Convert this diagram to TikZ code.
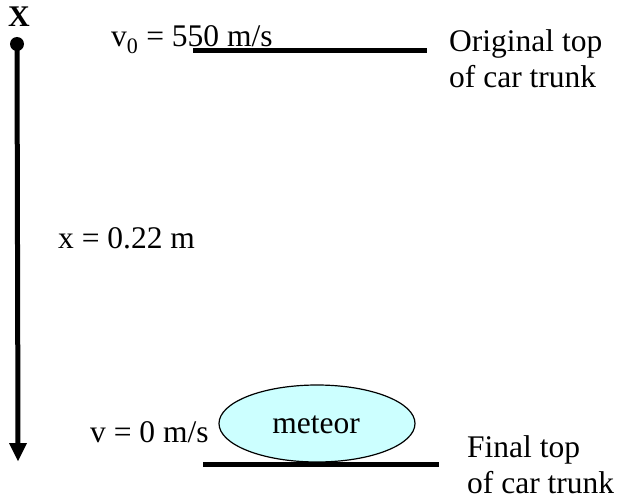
\documentclass[tikz,border=0pt]{standalone}
\usepackage{fontspec}
\setmainfont{Liberation Serif}
\usetikzlibrary{shapes.geometric}
\definecolor{meteorfill}{HTML}{CCFFFF}
\begin{document}
\begin{tikzpicture}[x=1pt,y=-1pt,
  lbl/.style={inner sep=0pt,font=\fontsize{31.5}{36}\selectfont},
  thick line/.style={line width=5pt}]
\useasboundingbox (0,0) rectangle (618,500);
% axis
\node[inner sep=0pt,font=\fontsize{30}{36}\selectfont\bfseries,anchor=base] (X) at (19,27) {X};
\fill (17,44) circle (7);
\coordinate (atop) at (17,44);
\coordinate (abot) at (18,461);
\draw[line width=5pt] (atop) -- (18,445);
\fill (abot) -- (9,443) -- (27,443) -- cycle;
% top
\node[lbl,anchor=base west] (v0) at (111,47) {v\textsubscript{0} = 550 m/s};
\coordinate (t1) at (193,50.5);
\coordinate (t2) at (427,50.5);
\draw[thick line] (t1) -- (t2);
\node[lbl,anchor=base west,align=left] (orig) at (449,88) {Original top\\of car trunk};
% middle
\node[lbl,anchor=base west] (xl) at (58,248) {x = 0.22 m};
% bottom
\node[draw,line width=1.2pt,fill=meteorfill,ellipse,minimum width=196,minimum height=77,inner sep=0pt] (met) at (317,423.5) {};
\node[lbl,anchor=base] (mt) at (316,433) {meteor};
\node[lbl,anchor=base west] (vl) at (90,442) {v = 0 m/s};
\coordinate (b1) at (203,464.5);
\coordinate (b2) at (439,464.5);
\draw[thick line] (b1) -- (b2);
\node[lbl,anchor=base west,align=left] (fin) at (467,493) {Final top\\of car trunk};
\end{tikzpicture}
\end{document}
